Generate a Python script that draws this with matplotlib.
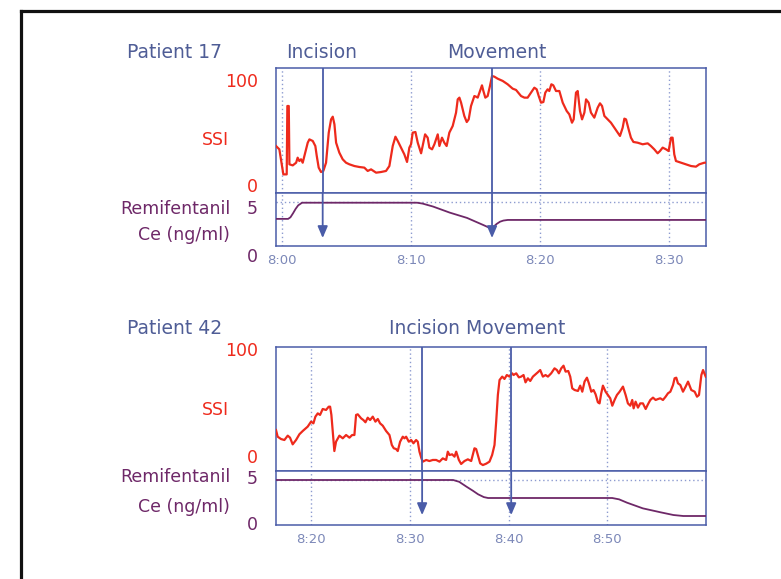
import matplotlib
matplotlib.use("Agg")
import matplotlib.pyplot as plt
from matplotlib.lines import Line2D
from matplotlib.transforms import ScaledTranslation

# ---------------- data ----------------
# Patient 17: SSI trace (minutes after 8:00, index value)
p17_time = [-0.47, -0.21, 0.00, 0.10, 0.36, 0.41, 0.52, 0.57, 0.83, 1.09, 1.21, 1.34, 1.47, 1.60,
            1.73, 1.99, 2.12, 2.38, 2.58, 2.69, 2.84, 3.02, 3.20, 3.41, 3.62, 3.80, 3.93, 4.06,
            4.19, 4.44, 4.70, 4.96, 5.22, 5.61, 5.99, 6.38, 6.64, 6.90, 7.29, 7.67, 8.06, 8.32,
            8.58, 8.79, 8.97, 9.22, 9.48, 9.69, 9.87, 10.00, 10.13, 10.34, 10.52, 10.78, 10.90,
            11.09, 11.29, 11.42, 11.63, 11.81, 12.07, 12.20, 12.40, 12.58, 12.76, 12.97, 13.23,
            13.49, 13.62, 13.75, 13.88, 14.13, 14.32, 14.47, 14.65, 14.91, 15.04, 15.17, 15.35,
            15.50, 15.61, 15.76, 15.94, 16.12, 16.28, 16.46, 16.72, 17.11, 17.49, 17.88, 18.14,
            18.53, 18.79, 19.04, 19.30, 19.56, 19.74, 19.90, 20.08, 20.26, 20.41, 20.59, 20.72,
            20.88, 21.03, 21.24, 21.50, 21.76, 22.07, 22.27, 22.48, 22.61, 22.79, 22.92, 23.10,
            23.26, 23.44, 23.57, 23.77, 23.95, 24.21, 24.47, 24.65, 24.81, 24.99, 25.25, 25.50,
            25.76, 26.02, 26.20, 26.41, 26.54, 26.67, 26.87, 27.05, 27.24, 27.57, 27.96, 28.35,
            28.60, 28.86, 29.12, 29.30, 29.51, 29.77, 29.97, 30.16, 30.28, 30.41, 30.54, 30.93,
            31.32, 31.71, 32.09, 32.35, 32.74, 33.00]
p17_ssi = [38.3, 35.2, 19.6, 11.8, 11.8, 75.7, 75.7, 21.2, 20.2, 22.7, 27.4, 24.3, 25.9, 22.7,
           29.0, 41.4, 44.5, 43.0, 38.3, 29.0, 18.1, 14.0, 15.0, 22.7, 50.8, 63.2, 65.7, 58.6,
           41.4, 32.1, 25.9, 22.7, 21.2, 19.6, 18.7, 18.1, 15.0, 16.5, 13.4, 14.0, 15.0, 19.6,
           38.3, 47.0, 43.0, 36.8, 30.5, 23.4, 36.8, 39.9, 50.8, 51.4, 41.4, 31.5, 38.3,
           49.2, 46.1, 36.8, 35.2, 39.9, 49.2, 38.3, 46.1, 41.4, 38.3, 50.8, 57.0,
           69.5, 81.9, 83.5, 78.8, 66.4, 60.7, 63.2, 75.7, 85.0, 84.4, 83.5, 89.7,
           95.0, 89.7, 83.5, 85.0, 94.4, 103.7, 103.1, 101.2, 99.1, 96.0, 91.9, 90.7,
           85.0, 83.5, 83.5, 88.2, 92.8, 91.3, 85.0, 78.8, 79.4, 88.2, 91.3, 89.7,
           96.0, 95.0, 89.7, 89.7, 78.8, 71.0, 67.9, 60.1, 63.2, 88.2, 89.7, 71.0,
           63.2, 69.5, 81.9, 78.8, 69.5, 64.8, 74.1, 78.2, 75.7, 66.4, 63.2, 60.1,
           55.5, 50.8, 47.7, 55.5, 63.9, 63.2, 53.9, 46.1, 42.1, 41.4, 39.9, 40.8,
           38.3, 35.2, 31.5, 33.6, 36.8, 35.2, 33.6, 46.1, 46.1, 30.5, 24.3, 22.7,
           21.2, 19.6, 19.0, 21.2, 22.7, 22.7]

# Patient 17: remifentanil effect-site concentration (ng/ml)
p17_remi_time = [-0.47, 0.47, 0.65, 0.85, 1.05, 1.25, 1.55, 10.47, 10.9, 11.7, 13.0, 14.34,
                 15.58, 16.28, 16.45, 16.64, 16.9, 17.16, 17.5, 32.87]
p17_remi = [3.07, 3.07, 3.25, 3.7, 4.2, 4.6, 4.9, 4.9, 4.8, 4.47, 3.78, 3.18,
            2.39, 1.93, 2.25, 2.5, 2.75, 2.88, 2.95, 2.95]

# Patient 42: SSI trace
p42_time = [16.45, 16.62, 16.96, 17.30, 17.64, 17.87, 18.14, 18.48, 18.82, 19.16, 19.66, 20.00,
            20.24, 20.44, 20.68, 20.91, 21.18, 21.52, 21.79, 21.93, 22.06, 22.20, 22.36, 22.53,
            22.87, 23.21, 23.55, 23.89, 24.16, 24.39, 24.56, 24.73, 25.07, 25.30, 25.51, 25.74,
            25.98, 26.25, 26.52, 26.76, 26.99, 27.26, 27.60, 27.94, 28.18, 28.38, 28.61, 28.78,
            29.02, 29.29, 29.46, 29.63, 29.90, 30.14, 30.37, 30.64, 30.81, 30.98, 31.18, 31.32,
            31.66, 31.99, 32.33, 32.67, 33.01, 33.34, 33.68, 33.85, 34.02, 34.29, 34.53, 34.70,
            34.97, 35.20, 35.54, 35.88, 36.22, 36.55, 36.72, 36.89, 37.13, 37.40, 37.74, 38.07,
            38.34, 38.58, 38.75, 38.92, 39.09, 39.36, 39.59, 39.83, 40.10, 40.37, 40.51, 40.78,
            41.05, 41.28, 41.52, 41.72, 41.96, 42.20, 42.47, 42.74, 42.97, 43.21, 43.48, 43.75,
            43.99, 44.32, 44.66, 44.90, 45.10, 45.34, 45.57, 45.78, 46.05, 46.25, 46.45, 46.69,
            47.03, 47.26, 47.47, 47.70, 47.94, 48.14, 48.38, 48.61, 48.82, 49.05, 49.22, 49.39,
            49.56, 49.83, 50.07, 50.30, 50.51, 50.74, 50.98, 51.25, 51.59, 51.86, 52.09, 52.33,
            52.53, 52.67, 52.87, 53.11, 53.34, 53.61, 53.89, 54.12, 54.36, 54.63, 54.90, 55.14,
            55.37, 55.64, 55.91, 56.15, 56.39, 56.66, 56.82, 56.99, 57.16, 57.40, 57.67, 57.94,
            58.18, 58.51, 58.85, 59.09, 59.29, 59.53, 59.70, 59.97]
p42_ssi = [33.0, 26.7, 24.5, 23.6, 27.7, 25.8, 19.5, 23.6, 29.0, 32.1, 36.2, 40.9,
           39.3, 45.6, 48.7, 47.2, 52.8, 51.9, 55.0, 55.0, 47.2, 31.5, 13.2, 22.0,
           27.7, 25.2, 28.3, 25.8, 28.3, 28.3, 47.2, 47.8, 44.0, 42.4, 40.3, 44.6,
           42.4, 45.6, 40.9, 43.4, 39.3, 37.1, 32.1, 28.3, 18.9, 15.8, 15.1, 13.2,
           22.0, 26.7, 25.2, 26.7, 22.0, 23.6, 20.5, 23.6, 22.0, 12.6, 6.3, 3.2,
           4.8, 3.8, 4.8, 4.8, 3.2, 6.3, 4.8, 12.6, 9.5, 10.1, 7.9, 12.6,
           4.8, 1.0, 3.8, 5.4, 3.8, 15.8, 15.1, 9.5, 1.6, 0.0, 1.3, 3.2,
           9.5, 18.9, 40.9, 66.0, 80.1, 83.3, 81.1, 84.8, 83.3, 86.4, 84.8, 86.4,
           82.6, 83.3, 84.8, 77.9, 81.7, 79.2, 83.3, 85.5, 87.4, 89.5, 83.3, 84.8,
           83.3, 86.4, 91.1, 89.5, 86.4, 91.1, 93.6, 88.0, 88.6, 83.3, 72.3, 70.7,
           69.8, 74.8, 69.1, 78.6, 82.3, 77.0, 69.1, 70.7, 66.6, 59.1, 58.1, 67.6,
           74.8, 69.1, 66.0, 62.9, 55.9, 61.3, 66.0, 69.1, 73.9, 66.0, 58.1, 55.9,
           61.3, 53.4, 59.7, 54.1, 58.1, 58.1, 52.8, 57.2, 61.3, 63.5, 61.3, 62.2,
           62.9, 61.3, 64.4, 67.6, 69.1, 75.4, 81.7, 82.3, 77.0, 75.4, 69.1, 73.9,
           78.6, 70.7, 69.1, 64.4, 66.0, 84.8, 89.5, 83.3]

# Patient 42: remifentanil effect-site concentration (ng/ml)
p42_remi_time = [16.45, 34.39, 35.0, 35.74, 36.4, 36.92, 37.5, 37.93, 50.5, 51.2, 52.0, 53.6,
                 55.4, 56.7, 57.7, 60.0]
p42_remi = [5.0, 5.0, 4.8, 4.26, 3.8, 3.41, 3.1, 3.0, 3.0, 2.85, 2.48, 1.85,
            1.41, 1.11, 1.0, 1.0]

# Clinical events (minutes after 8:00)
p17_events = [3.15, 16.28]
p42_events = [31.25, 40.27]

p17_ticks = [0, 10, 20, 30]
p17_ticklabels = ["8:00", "8:10", "8:20", "8:30"]
p42_ticks = [20, 30, 40, 50]
p42_ticklabels = ["8:20", "8:30", "8:40", "8:50"]

# ---------------- style ----------------
W, H = 781, 579
RED = "#ee2a1c"
PURPLE = "#6e2868"
BLUE = "#4a5ca8"
GRID = "#8d9bd0"
TITLE = "#4f5d96"
TICKTXT = "#7c88b8"
DOTS = (0, (1, 2))

plt.rcParams["font.family"] = ["DejaVu Sans"]

fig = plt.figure(figsize=(W / 100, H / 100), dpi=100)
fig.patch.set_facecolor("white")


def rect(x0, y0, x1, y1):
    return [x0 / W, 1 - y1 / H, (x1 - x0) / W, (y1 - y0) / H]


def fx(x):
    return x / W


def fy(y):
    return 1 - y / H


def nudge(label, dy_px):
    label.set_transform(label.get_transform()
                        + ScaledTranslation(0, -dy_px / 100, fig.dpi_scale_trans))


def panel(ssi_rect, remi_rect, t, ssi, rt, remi, xlim, ticks, ticklabels,
          events, tip, ssi_nudge, remi_nudge):
    ax_s = fig.add_axes(rect(*ssi_rect))
    ax_r = fig.add_axes(rect(*remi_rect), sharex=ax_s)
    for ax in (ax_s, ax_r):
        for sp in ax.spines.values():
            sp.set_color(BLUE)
            sp.set_linewidth(1.1)
        ax.set_xticks(ticks)
        ax.grid(axis="x", color=GRID, linestyle=DOTS, linewidth=1.0)
        ax.set_axisbelow(True)
        ax.tick_params(length=0)
    ax_s.set_xlim(*xlim)
    ax_s.set_ylim(-5.6, 111.2)
    ax_r.set_ylim(0, 6.0)

    ax_s.plot(t, ssi, color=RED, lw=1.6, solid_joinstyle="round", zorder=3)
    ax_r.plot(rt, remi, color=PURPLE, lw=1.3, zorder=3)
    ax_r.axhline(5, color=GRID, linestyle=DOTS, linewidth=1.0, zorder=1)

    ax_s.tick_params(axis="x", labelbottom=False)
    ax_r.set_xticklabels(ticklabels)
    ax_r.tick_params(axis="x", labelsize=9.5, labelcolor=TICKTXT, pad=6)

    ax_s.set_yticks([0, 100])
    ax_s.set_yticklabels(["0", "100"])
    ax_s.tick_params(axis="y", labelsize=12.5, labelcolor=RED, pad=13)
    ax_r.set_yticks([0, 5])
    ax_r.set_yticklabels(["0", "5"])
    ax_r.tick_params(axis="y", labelsize=12.5, labelcolor=PURPLE, pad=13)
    for lbl, d in zip(ax_s.get_yticklabels(), ssi_nudge):
        nudge(lbl, d)
    for lbl, d in zip(ax_r.get_yticklabels(), remi_nudge):
        nudge(lbl, d)

    for ev in events:
        ax_s.axvline(ev, color=BLUE, lw=1.3, zorder=4)
        ax_r.annotate("", xy=(ev, tip), xycoords="data",
                      xytext=(ev, 0.0), textcoords=ax_s.get_xaxis_transform(),
                      arrowprops=dict(arrowstyle="-|>,head_length=0.7,head_width=0.3",
                                      color=BLUE, lw=1.3, shrinkA=0, shrinkB=0,
                                      mutation_scale=10),
                      annotation_clip=False, zorder=4)
    return ax_s, ax_r


panel((276, 68, 706, 193), (276, 193, 706, 246), p17_time, p17_ssi,
      p17_remi_time, p17_remi, (-0.47, 32.87), p17_ticks, p17_ticklabels,
      p17_events, 0.9, ssi_nudge=(-2, 0), remi_nudge=(9, 5))
panel((276, 347, 706, 471), (276, 471, 706, 525), p42_time, p42_ssi,
      p42_remi_time, p42_remi, (16.45, 60.0), p42_ticks, p42_ticklabels,
      p42_events, 1.1, ssi_nudge=(-9, -10), remi_nudge=(-2, -3))

# ---------------- text ----------------
fig.text(fx(127), fy(52), "Patient 17", color=TITLE, fontsize=13.5, ha="left", va="center")
fig.text(fx(322), fy(52), "Incision", color=TITLE, fontsize=13.5, ha="center", va="center")
fig.text(fx(497), fy(52), "Movement", color=TITLE, fontsize=13.5, ha="center", va="center")
fig.text(fx(127), fy(329), "Patient 42", color=TITLE, fontsize=13.5, ha="left", va="center")
fig.text(fx(477), fy(328), "Incision Movement", color=TITLE, fontsize=13.5,
         ha="center", va="center")

for y_ssi, y_rem, y_ce in ((140, 209, 235), (410, 477, 507)):
    fig.text(fx(229), fy(y_ssi), "SSI", color=RED, fontsize=12.5, ha="right", va="center")
    fig.text(fx(230), fy(y_rem), "Remifentanil", color=PURPLE, fontsize=12.5,
             ha="right", va="center")
    fig.text(fx(230), fy(y_ce), "Ce (ng/ml)", color=PURPLE, fontsize=12.5,
             ha="right", va="center")

# outer frame
fig.add_artist(Line2D([fx(20.5), fx(20.5)], [0, fy(10.5)], color="#111111", lw=2.3,
                      transform=fig.transFigure, solid_capstyle="projecting"))
fig.add_artist(Line2D([fx(20.5), 1], [fy(10.5), fy(10.5)], color="#111111", lw=2.3,
                      transform=fig.transFigure, solid_capstyle="projecting"))

fig.savefig("out.png", dpi=100, facecolor="white")
